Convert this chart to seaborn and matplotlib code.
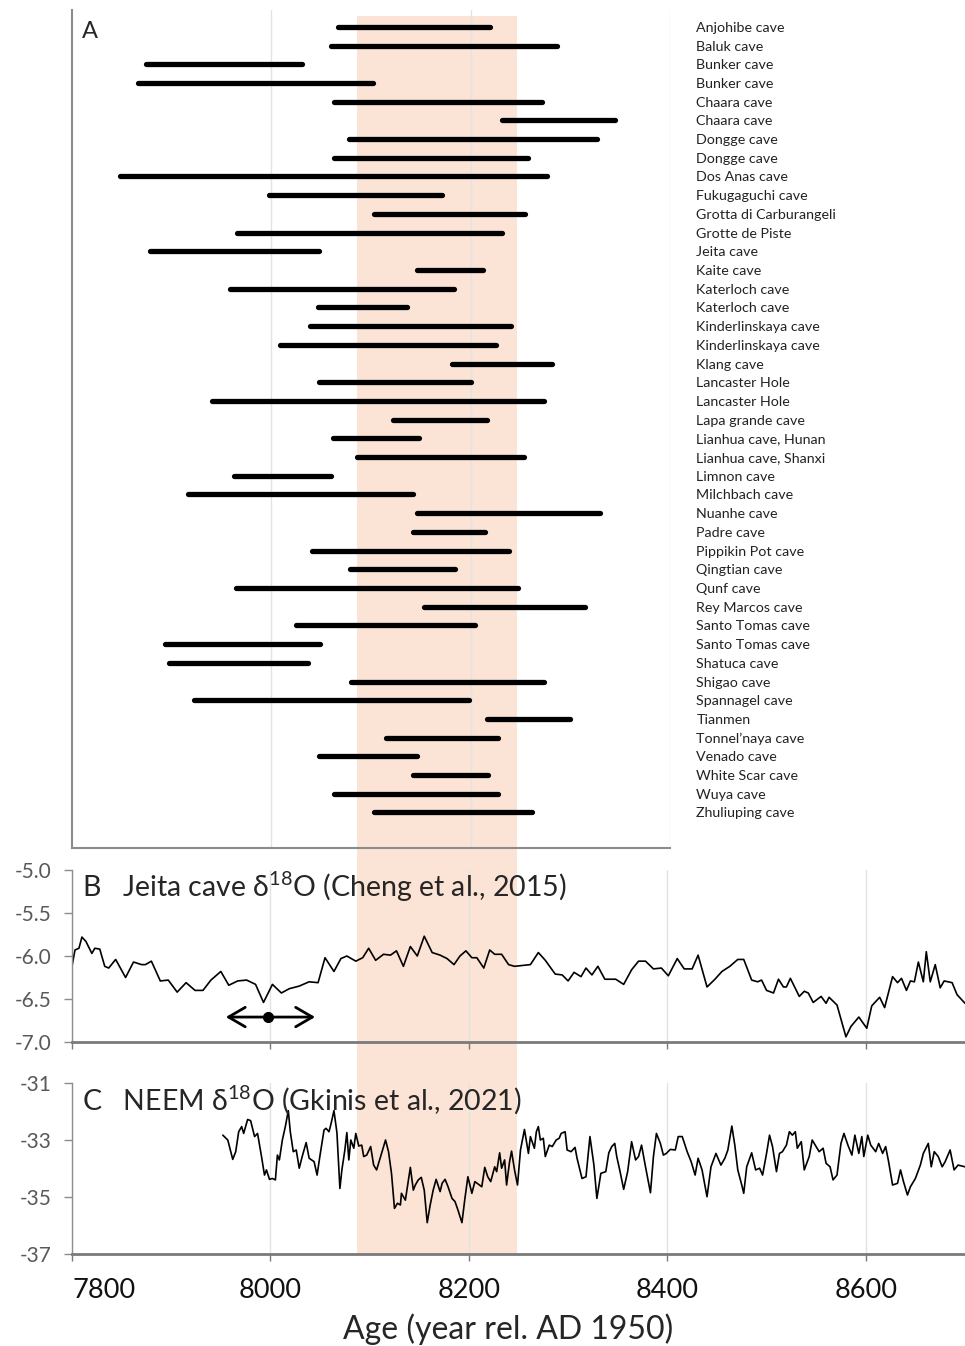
import numpy as np
import matplotlib.pyplot as plt
import pandas as pd
import seaborn as sns

# ---------------- data ----------------
caves = ["Anjohibe cave", "Baluk cave", "Bunker cave", "Bunker cave", "Chaara cave",
         "Chaara cave", "Dongge cave", "Dongge cave", "Dos Anas cave", "Fukugaguchi cave",
         "Grotta di Carburangeli", "Grotte de Piste", "Jeita cave", "Kaite cave",
         "Katerloch cave", "Katerloch cave", "Kinderlinskaya cave", "Kinderlinskaya cave",
         "Klang cave", "Lancaster Hole", "Lancaster Hole", "Lapa grande cave",
         "Lianhua cave, Hunan", "Lianhua cave, Shanxi", "Limnon cave", "Milchbach cave",
         "Nuanhe cave", "Padre cave", "Pippikin Pot cave", "Qingtian cave", "Qunf cave",
         "Rey Marcos cave", "Santo Tomas cave", "Santo Tomas cave", "Shatuca cave",
         "Shigao cave", "Spannagel cave", "Tianmen", "Tonnel\u2019naya cave", "Venado cave",
         "White Scar cave", "Wuya cave", "Zhuliuping cave"]
event_start = [8067, 8060, 7874, 7866, 8063, 8231, 8078, 8063, 7848, 7998,
               8103, 7966, 7878, 8146, 7959, 8047, 8039, 8009, 8181, 8048,
               7940, 8122, 8062, 8086, 7963, 7916, 8146, 8142, 8041, 8079,
               7965, 8153, 8025, 7893, 7897, 8080, 7922, 8216, 8115, 8048,
               8142, 8063, 8103]
event_end = [8219, 8287, 8031, 8102, 8272, 8345, 8327, 8258, 8277, 8171,
             8255, 8231, 8048, 8212, 8183, 8136, 8240, 8225, 8282, 8200,
             8274, 8216, 8148, 8254, 8060, 8142, 8330, 8214, 8238, 8184,
             8247, 8315, 8204, 8049, 8037, 8274, 8198, 8300, 8227, 8146,
             8217, 8227, 8262]

band = (8087, 8248)

jeita_age = [7800, 7803, 7807, 7810, 7814, 7820, 7823, 7828, 7833, 7837, 7844, 7854,
             7862, 7870, 7874, 7880, 7889, 7897, 7906, 7915, 7924, 7932, 7940, 7950,
             7958, 7967, 7976, 7985, 7993, 8002, 8011, 8019, 8029, 8039, 8048, 8055,
             8064, 8071, 8077, 8086, 8093, 8099, 8106, 8114, 8121, 8127, 8134, 8141,
             8148, 8155, 8163, 8171, 8178, 8185, 8191, 8197, 8203, 8208, 8215, 8221,
             8226, 8233, 8240, 8246, 8262, 8270, 8277, 8287, 8294, 8300, 8306, 8313,
             8318, 8324, 8330, 8337, 8348, 8356, 8364, 8371, 8378, 8386, 8394, 8401,
             8410, 8417, 8425, 8431, 8440, 8448, 8455, 8463, 8471, 8477, 8485, 8491,
             8495, 8500, 8507, 8512, 8517, 8520, 8524, 8533, 8538, 8542, 8547, 8555,
             8560, 8563, 8571, 8580, 8585, 8593, 8601, 8606, 8614, 8619, 8627, 8632,
             8636, 8641, 8645, 8649, 8653, 8658, 8661, 8665, 8670, 8675, 8679, 8687,
             8692, 8700]
jeita_d18o = [-6.12, -5.93, -5.91, -5.78, -5.83, -5.97, -5.91, -5.92, -6.12, -6.14, -6.04, -6.25,
              -6.07, -6.10, -6.10, -6.06, -6.29, -6.28, -6.42, -6.31, -6.40, -6.40, -6.28, -6.18,
              -6.34, -6.29, -6.28, -6.33, -6.54, -6.33, -6.43, -6.38, -6.35, -6.30, -6.31, -6.02,
              -6.18, -6.03, -6.00, -6.06, -6.02, -5.91, -6.05, -5.98, -5.99, -5.94, -6.12, -5.89,
              -6.00, -5.77, -5.96, -5.99, -6.03, -6.10, -6.00, -5.94, -6.02, -6.02, -6.14, -5.93,
              -5.98, -5.98, -6.10, -6.12, -6.10, -5.96, -6.05, -6.21, -6.22, -6.29, -6.19, -6.24,
              -6.14, -6.22, -6.12, -6.27, -6.27, -6.33, -6.16, -6.06, -6.06, -6.15, -6.14, -6.23,
              -6.03, -6.15, -6.15, -5.99, -6.36, -6.27, -6.18, -6.12, -6.04, -6.04, -6.28, -6.30,
              -6.28, -6.40, -6.43, -6.27, -6.36, -6.36, -6.26, -6.47, -6.41, -6.43, -6.54, -6.47,
              -6.55, -6.48, -6.57, -6.94, -6.82, -6.71, -6.84, -6.58, -6.48, -6.60, -6.24, -6.31,
              -6.26, -6.40, -6.29, -6.30, -6.07, -6.30, -5.95, -6.30, -6.10, -6.37, -6.29, -6.31,
              -6.45, -6.55]

neem_age = [7952, 7957, 7962, 7965, 7968, 7971, 7973, 7977, 7980, 7984, 7987, 7991,
            7994, 7996, 7999, 8002, 8005, 8007, 8009, 8012, 8015, 8018, 8020, 8023,
            8026, 8029, 8032, 8036, 8039, 8044, 8047, 8050, 8054, 8056, 8059, 8061,
            8064, 8067, 8070, 8072, 8075, 8077, 8079, 8081, 8084, 8086, 8089, 8092,
            8094, 8097, 8101, 8104, 8107, 8111, 8116, 8119, 8122, 8125, 8128, 8131,
            8132, 8136, 8138, 8141, 8144, 8146, 8149, 8152, 8155, 8158, 8161, 8164,
            8167, 8171, 8173, 8176, 8179, 8183, 8186, 8189, 8193, 8196, 8199, 8203,
            8206, 8213, 8216, 8219, 8222, 8226, 8228, 8231, 8233, 8236, 8238, 8241,
            8243, 8246, 8249, 8252, 8256, 8260, 8262, 8266, 8268, 8270, 8272, 8275,
            8277, 8281, 8284, 8288, 8291, 8293, 8297, 8299, 8303, 8307, 8309, 8314,
            8318, 8322, 8326, 8329, 8333, 8338, 8341, 8344, 8347, 8349, 8352, 8356,
            8360, 8364, 8368, 8371, 8374, 8378, 8383, 8386, 8389, 8393, 8396, 8399,
            8403, 8408, 8411, 8415, 8420, 8424, 8428, 8431, 8435, 8440, 8444, 8449,
            8454, 8458, 8461, 8465, 8468, 8471, 8475, 8477, 8480, 8485, 8489, 8493,
            8496, 8500, 8503, 8506, 8510, 8513, 8516, 8520, 8523, 8526, 8529, 8531,
            8535, 8538, 8543, 8546, 8550, 8553, 8557, 8560, 8564, 8567, 8571, 8575,
            8578, 8582, 8586, 8589, 8593, 8596, 8598, 8602, 8605, 8610, 8613, 8617,
            8620, 8623, 8627, 8632, 8635, 8638, 8642, 8645, 8650, 8655, 8658, 8663,
            8666, 8669, 8673, 8677, 8680, 8685, 8689, 8693, 8700]
neem_d18o = [-32.83, -33.00, -33.68, -33.41, -32.71, -32.53, -32.77, -32.28, -32.32, -32.88, -32.77, -33.58,
             -34.23, -34.05, -34.38, -34.35, -34.40, -33.53, -33.70, -33.00, -32.53, -31.97, -32.71, -33.41,
             -33.35, -33.99, -33.58, -33.09, -33.64, -33.76, -34.23, -33.53, -32.65, -32.59, -32.71, -32.44,
             -31.97, -32.74, -34.70, -34.05, -33.35, -32.74, -33.70, -33.00, -33.29, -32.77, -33.21, -33.18,
             -33.58, -33.53, -33.23, -33.88, -34.05, -33.58, -33.00, -33.41, -34.17, -35.40, -35.22, -35.28,
             -34.87, -35.11, -34.64, -33.96, -34.76, -34.58, -34.40, -34.31, -34.76, -35.90, -35.28, -34.76,
             -34.38, -34.81, -34.52, -34.38, -34.64, -35.05, -35.16, -35.46, -35.90, -35.05, -34.29, -34.87,
             -34.46, -34.64, -33.96, -34.29, -34.46, -33.94, -34.11, -33.45, -33.99, -33.70, -34.58, -33.76,
             -33.39, -34.05, -34.58, -33.35, -32.63, -33.47, -32.88, -33.29, -32.71, -32.53, -33.00, -32.94,
             -33.58, -33.18, -33.23, -33.00, -32.94, -32.77, -32.71, -33.35, -33.41, -33.26, -33.64, -34.35,
             -34.29, -32.88, -33.88, -35.05, -34.17, -34.11, -33.45, -33.23, -33.12, -33.58, -34.05, -34.73,
             -34.11, -33.06, -33.70, -33.58, -33.18, -33.94, -34.85, -33.58, -32.77, -33.12, -33.53, -33.47,
             -33.33, -33.35, -32.88, -32.88, -33.41, -33.76, -34.23, -33.64, -34.05, -34.99, -33.94, -33.47,
             -33.88, -33.64, -33.35, -32.51, -33.18, -34.05, -34.58, -34.87, -33.94, -33.45, -34.05, -33.99,
             -34.23, -33.47, -32.83, -33.23, -34.11, -33.47, -33.41, -33.18, -32.71, -32.83, -32.71, -33.29,
             -33.06, -34.05, -33.58, -33.00, -33.23, -33.41, -33.29, -33.82, -33.94, -34.40, -34.23, -33.12,
             -32.77, -33.18, -33.53, -32.83, -33.47, -32.88, -33.58, -32.83, -33.18, -33.41, -33.12, -33.47,
             -33.23, -33.76, -34.58, -34.52, -34.05, -34.46, -34.93, -34.64, -34.35, -33.88, -33.47, -33.12,
             -33.94, -33.41, -33.58, -33.94, -33.76, -33.35, -34.05, -33.88, -33.94]

jeita_age_err = (7955, 8045)   # age uncertainty arrow
jeita_age_mid = 7998
jeita_arrow_y = -6.71

xticks = [7800, 8000, 8200, 8400, 8600]

# ---------------- style ----------------
sns.set_theme(style="white")
plt.rcParams["font.family"] = ["Lato", "DejaVu Sans"]
plt.rcParams["axes.unicode_minus"] = False
plt.rcParams["mathtext.fontset"] = "custom"
plt.rcParams["mathtext.rm"] = "Lato"
plt.rcParams["mathtext.it"] = "Lato:italic"

W, H = 965, 1346
fig = plt.figure(figsize=(W / 100, H / 100), dpi=100)


def px(l, t, r, b):
    return [l / W, 1 - b / H, (r - l) / W, (b - t) / H]


grid_c = "#e3e3e3"
spine_c = "#8c8c8c"
tick_c = "#595959"
band_c = "#fbe3d5"

# background shading through all panels
bg = fig.add_axes(px(72, 16, 965, 1254), zorder=0)
bg.set_xlim(7800, 8700)
bg.axvspan(*band, color=band_c, lw=0)
bg.axis("off")

# ---------------- panel A ----------------
axA = fig.add_axes(px(72, 10, 670, 848), zorder=1)
axA.set_facecolor("none")
rows = np.arange(len(caves))
axA.hlines(rows, event_start, event_end, colors="black", lw=3.8, capstyle="round")
axA.set_xlim(7800, 8400)
axA.set_ylim(43.9, -0.9)
axA.set_xticks([8000, 8200, 8400])
axA.tick_params(axis="x", length=0, labelbottom=False)
for g in [8000, 8200, 8400]:
    axA.axvline(g, color=grid_c, lw=1, zorder=0)
axA.yaxis.tick_right()
axA.set_yticks(rows)
axA.set_yticklabels(caves, fontsize=10.3, color="#222222")
axA.tick_params(axis="y", length=0, pad=19)
for s in ["top", "right"]:
    axA.spines[s].set_visible(False)
for s in ["left", "bottom"]:
    axA.spines[s].set_color(spine_c)
    axA.spines[s].set_linewidth(1.5)
axA.text(0.017, 0.987, "A", transform=axA.transAxes, fontsize=17, va="top", ha="left")


def style_series(ax):
    ax.set_facecolor("none")
    ax.set_xlim(7800, 8700)
    ax.set_xticks(xticks)
    for g in xticks[1:]:
        ax.axvline(g, color=grid_c, lw=1, zorder=0)
    for s in ["top", "right"]:
        ax.spines[s].set_visible(False)
    ax.spines["bottom"].set_color("#7a7a7a")
    ax.spines["bottom"].set_linewidth(2)
    ax.spines["left"].set_color(spine_c)
    ax.spines["left"].set_linewidth(1)
    ax.tick_params(axis="x", direction="out", length=5, width=1, color="#7a7a7a",
                   bottom=True)
    ax.tick_params(axis="y", direction="out", length=6, width=1, color=spine_c,
                   left=True, labelsize=15, labelcolor=tick_c, pad=9)
    ax.set_xlabel("")
    ax.set_ylabel("")


# ---------------- panel B ----------------
axB = fig.add_axes(px(72, 870, 965, 1042), zorder=1)
dfB = pd.DataFrame({"age": jeita_age, "d18O": jeita_d18o})
sns.lineplot(data=dfB, x="age", y="d18O", ax=axB, color="black", lw=1.2, estimator=None)
style_series(axB)
axB.set_ylim(-7.0, -5.0)
axB.set_yticks([-7.0, -6.5, -6.0, -5.5, -5.0])
axB.set_yticklabels(["%.1f" % v for v in [-7.0, -6.5, -6.0, -5.5, -5.0]])
axB.tick_params(axis="x", labelbottom=False)
axB.text(0.011, 0.90, "B   Jeita cave \u03b4$^{18}$O (Cheng et al., 2015)",
         transform=axB.transAxes, fontsize=20.5, va="center", ha="left")
axB.annotate("", xy=(jeita_age_err[0], jeita_arrow_y), xytext=(jeita_age_err[1], jeita_arrow_y),
             arrowprops=dict(arrowstyle="<->, head_length=0.6, head_width=0.35",
                             color="black", lw=2, mutation_scale=20,
                             shrinkA=0, shrinkB=0))
axB.plot([jeita_age_mid], [jeita_arrow_y], "o", color="black", ms=7)

# ---------------- panel C ----------------
axC = fig.add_axes(px(72, 1083, 965, 1254), zorder=1)
dfC = pd.DataFrame({"age": neem_age, "d18O": neem_d18o})
sns.lineplot(data=dfC, x="age", y="d18O", ax=axC, color="black", lw=1.2, estimator=None)
style_series(axC)
axC.set_ylim(-37, -31)
axC.set_yticks([-37, -35, -33, -31])
axC.set_xticklabels([str(v) for v in xticks], fontsize=19.5)
axC.tick_params(axis="x", pad=12, labelcolor="#111111")
axC.get_xticklabels()[0].set_horizontalalignment("left")
axC.set_xlabel("Age (year rel. AD 1950)", fontsize=23, labelpad=8)
axC.xaxis.label.set_x(0.488)
axC.text(0.011, 0.90, "C   NEEM \u03b4$^{18}$O (Gkinis et al., 2021)",
         transform=axC.transAxes, fontsize=20.5, va="center", ha="left")

fig.savefig("out.png", dpi=100)
